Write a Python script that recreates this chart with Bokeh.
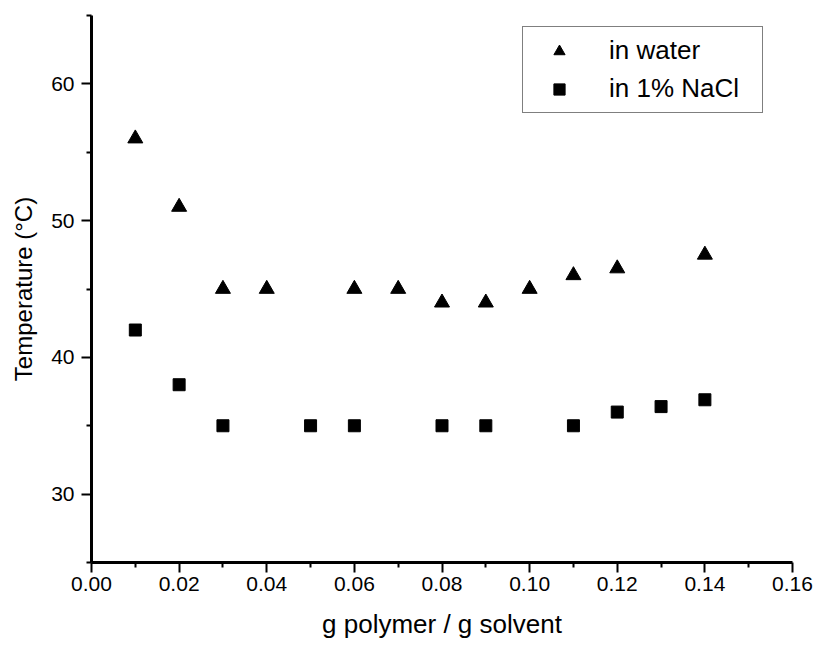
from bokeh.plotting import figure
from bokeh.models import FixedTicker, Legend, LegendItem
from bokeh.embed import file_html
from bokeh.resources import INLINE

# data
water_x = [0.01, 0.02, 0.03, 0.04, 0.06, 0.07, 0.08, 0.09, 0.10, 0.11, 0.12, 0.14]
water_y = [56, 51, 45, 45, 45, 45, 44, 44, 45, 46, 46.5, 47.5]
nacl_x = [0.01, 0.02, 0.03, 0.05, 0.06, 0.08, 0.09, 0.11, 0.12, 0.13, 0.14]
nacl_y = [42, 38, 35, 35, 35, 35, 35, 35, 36, 36.4, 36.9]

x_major = [0.00, 0.02, 0.04, 0.06, 0.08, 0.10, 0.12, 0.14, 0.16]
x_minor = [0.01, 0.03, 0.05, 0.07, 0.09, 0.11, 0.13, 0.15]
x_labels = ["0.00", "0.02", "0.04", "0.06", "0.08", "0.10", "0.12", "0.14", "0.16"]
y_major = [30, 40, 50, 60]
y_minor = [25, 35, 45, 55, 65]

FONT = "Liberation Sans"

p = figure(width=815, height=645, x_range=(0, 0.16), y_range=(25, 65),
           output_backend="svg", toolbar_location=None,
           min_border_left=91, min_border_top=15, min_border_right=23, min_border_bottom=83)
p.outline_line_color = None
p.xgrid.visible = False
p.ygrid.visible = False
p.background_fill_color = "white"
p.border_fill_color = "white"

r_w = p.scatter(water_x, water_y, marker="triangle", size=15, color="black")
r_n = p.scatter(nacl_x, nacl_y, marker="square", size=12, color="black")

p.xaxis.ticker = FixedTicker(ticks=x_major, minor_ticks=x_minor)
p.xaxis.major_label_overrides = {v: s for v, s in zip(x_major, x_labels)}
p.yaxis.ticker = FixedTicker(ticks=y_major, minor_ticks=y_minor)

for ax in (p.xaxis[0], p.yaxis[0]):
    ax.axis_line_width = 3
    ax.axis_line_color = "black"
    ax.major_tick_line_width = 2
    ax.minor_tick_line_width = 2
    ax.major_tick_line_color = "black"
    ax.minor_tick_line_color = "black"
    ax.major_tick_in = 0
    ax.major_tick_out = 10
    ax.minor_tick_in = 0
    ax.minor_tick_out = 5
    ax.major_label_text_font = FONT
    ax.major_label_text_font_size = "21px"
    ax.major_label_text_color = "black"
    ax.axis_label_text_font = FONT
    ax.axis_label_text_font_style = "normal"
    ax.axis_label_text_color = "black"

p.xaxis.axis_label = "g polymer / g solvent"
p.xaxis.axis_label_text_font_size = "26px"
p.xaxis.major_label_standoff = 4
p.xaxis.axis_label_standoff = 15
p.yaxis.axis_label = "Temperature (°C)"
p.yaxis.axis_label_text_font_size = "24px"
p.yaxis.major_label_standoff = 7
p.yaxis.axis_label_standoff = 11

legend = Legend(items=[LegendItem(label="in water", renderers=[r_w]),
                       LegendItem(label="in 1% NaCl", renderers=[r_n])],
                location=(431, 449))
legend.label_text_font = FONT
legend.label_text_font_size = "26px"
legend.label_text_color = "black"
legend.border_line_color = "black"
legend.border_line_width = 1.5
legend.padding = 8
legend.spacing = 7
legend.glyph_width = 56
legend.glyph_height = 28
legend.label_height = 28
legend.label_width = 145
legend.label_standoff = 22
legend.margin = 0
legend.background_fill_alpha = 1
p.add_layout(legend, "center")

open("out.html", "w").write(file_html(p, INLINE))
